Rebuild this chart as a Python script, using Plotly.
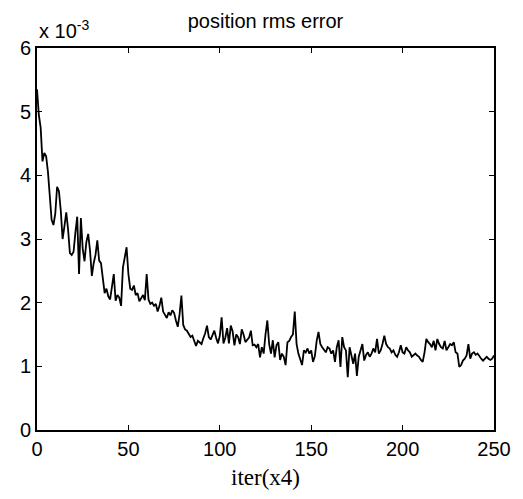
import plotly.graph_objects as go

# position rms error (units of 1e-3), one sample per x = 0..250
err_0_49 = [5.35, 4.95, 4.75, 4.22, 4.35, 4.30, 4.05, 3.65, 3.30, 3.22,
            3.40, 3.82, 3.75, 3.45, 3.00, 3.20, 3.42, 3.15, 2.78, 2.75,
            2.80, 3.10, 3.35, 2.45, 3.33, 2.85, 2.65, 2.95, 3.08, 2.82,
            2.42, 2.62, 2.75, 2.98, 2.66, 2.62, 2.40, 2.15, 2.22, 2.10,
            2.05, 2.22, 2.45, 2.03, 2.12, 2.08, 1.95, 2.55, 2.72, 2.87]
err_50_99 = [2.45, 2.22, 2.20, 2.27, 2.12, 2.15, 2.02, 2.08, 2.12, 2.04,
             2.45, 2.05, 1.98, 2.00, 1.95, 1.98, 1.86, 1.95, 2.08, 1.86,
             1.82, 1.76, 1.85, 1.80, 1.88, 1.84, 1.72, 1.62, 1.82, 2.11,
             1.65, 1.58, 1.56, 1.52, 1.46, 1.48, 1.41, 1.32, 1.40, 1.38,
             1.35, 1.44, 1.52, 1.64, 1.46, 1.42, 1.50, 1.56, 1.45, 1.36]
err_100_149 = [1.48, 1.77, 1.36, 1.45, 1.60, 1.36, 1.64, 1.55, 1.33, 1.50,
               1.46, 1.35, 1.58, 1.50, 1.38, 1.42, 1.45, 1.56, 1.33, 1.34,
               1.30, 1.35, 1.14, 1.30, 1.20, 1.50, 1.72, 1.35, 1.20, 1.41,
               1.14, 1.33, 1.38, 1.10, 1.20, 1.15, 1.02, 1.38, 1.40, 1.46,
               1.50, 1.86, 1.35, 1.20, 1.12, 1.02, 1.25, 1.22, 1.28, 1.20]
err_150_199 = [1.25, 1.07, 1.16, 1.40, 1.54, 1.35, 1.30, 1.25, 1.22, 1.30,
               1.28, 1.20, 1.25, 1.07, 1.30, 1.41, 0.99, 1.46, 1.30, 1.25,
               0.83, 1.30, 1.15, 1.04, 1.20, 0.85, 1.15, 1.25, 1.35, 1.09,
               1.18, 1.22, 1.15, 1.20, 1.28, 1.22, 1.43, 1.20, 1.25, 1.35,
               1.48, 1.35, 1.30, 1.28, 1.22, 1.25, 1.18, 1.15, 1.22, 1.33]
err_200_250 = [1.22, 1.20, 1.30, 1.25, 1.22, 1.15, 1.18, 1.20, 1.17, 1.15,
               1.10, 1.07, 1.22, 1.43, 1.38, 1.35, 1.30, 1.40, 1.25, 1.43,
               1.35, 1.30, 1.28, 1.40, 1.25, 1.30, 1.35, 1.33, 1.38, 1.22,
               1.20, 0.99, 1.02, 1.09, 1.12, 1.17, 1.35, 1.12, 1.20, 1.22,
               1.18, 1.20, 1.15, 1.12, 1.09, 1.12, 1.15, 1.12, 1.10, 1.12,
               1.17]

err = err_0_49 + err_50_99 + err_100_149 + err_150_199 + err_200_250
iters = list(range(len(err)))

x_ticks = [0, 50, 100, 150, 200, 250]
y_ticks = [0, 1, 2, 3, 4, 5, 6]

fig = go.Figure()
fig.add_trace(go.Scatter(x=iters, y=err, mode='lines',
                         line=dict(color='black', width=1.8),
                         showlegend=False))

axis_style = dict(showgrid=False, zeroline=False, showline=True,
                  linecolor='black', linewidth=1.8, mirror='allticks',
                  ticks='inside', ticklen=5, tickcolor='black', tickwidth=1.2,
                  tickfont=dict(family='Liberation Sans, Arial', size=20, color='black'))

fig.update_xaxes(range=[0, 250], tickvals=x_ticks, **axis_style,
                 title=dict(text='iter(x4)', standoff=10,
                            font=dict(family='Liberation Serif, Times New Roman', size=23, color='black')))
fig.update_yaxes(range=[0, 6], tickvals=y_ticks, **axis_style)

# the page body adds an 8px margin, so the figure is sized 8px smaller
fig.update_layout(
    width=515, height=491,
    margin=dict(l=17, r=23, t=40, b=69),
    plot_bgcolor='white', paper_bgcolor='white',
    title=dict(text='position rms error', x=0.5, xanchor='center', y=0.988, yanchor='top',
               font=dict(family='Liberation Sans, Arial', size=20, color='black')),
    annotations=[dict(text='x 10<sup>-3</sup>', xref='paper', yref='paper',
                      x=0, y=1, xanchor='left', yanchor='bottom', yshift=4, showarrow=False,
                      font=dict(family='Liberation Sans, Arial', size=20, color='black'))],
)

fig.write_html("out.html")
